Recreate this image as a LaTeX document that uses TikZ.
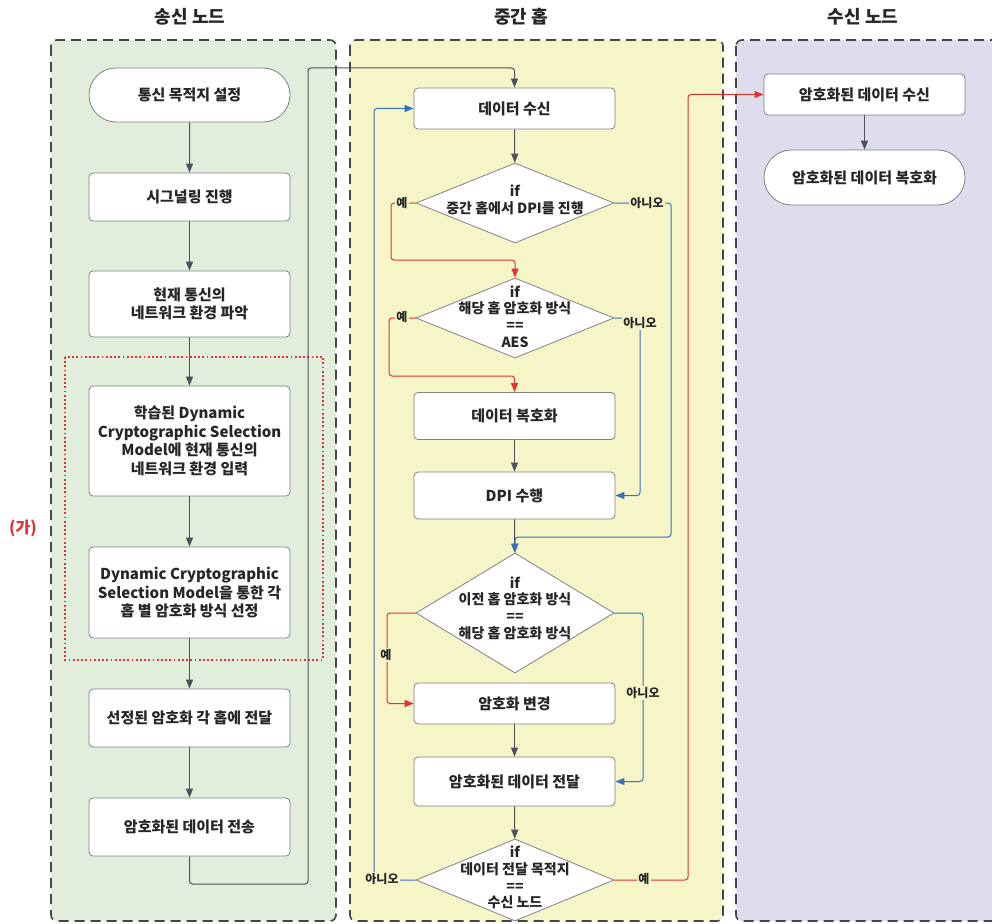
\documentclass[tikz,border=0pt]{standalone}
\usepackage{fontspec}
\setmainfont{Noto Sans CJK KR}
\usetikzlibrary{arrows.meta,shapes.geometric,shapes.misc}
\definecolor{laneG}{RGB}{224,238,219}
\definecolor{laneY}{RGB}{245,245,200}
\definecolor{laneP}{RGB}{221,221,238}
\definecolor{laneB}{RGB}{70,70,70}
\definecolor{boxC}{RGB}{125,130,135}
\definecolor{connC}{RGB}{75,82,92}
\definecolor{redC}{RGB}{226,50,50}
\definecolor{blueC}{RGB}{58,112,192}
\begin{document}
\begin{tikzpicture}[x=1pt,y=-1pt,
  lane/.style={draw=laneB, line width=1.6pt, dash pattern=on 10pt off 6pt, rounded corners=6pt},
  lanetitle/.style={font=\fontsize{18}{20}\selectfont\bfseries, text=black!85},
  box/.style={draw=boxC, fill=white, rounded corners=4pt, line width=0.8pt, minimum width=201pt, align=center, inner sep=0pt, font=\fontsize{15}{18.5}\selectfont\bfseries, text=black!85},
  term/.style={box, rounded rectangle, sharp corners},
  dia/.style={diamond, draw=boxC, fill=white, line width=0.8pt, minimum width=198pt, inner sep=0pt},
  dtxt/.style={align=center, font=\fontsize{14}{16.7}\selectfont\bfseries, text=black!85},
  conn/.style={draw=connC, line width=1pt, rounded corners=3pt, -{Triangle[length=9pt,width=7pt]}},
  rconn/.style={conn, draw=redC},
  bconn/.style={conn, draw=blueC},
  lbl/.style={font=\fontsize{12}{14}\selectfont\bfseries, text=black!85, fill=laneY, inner sep=1pt}
]
\useasboundingbox (0,0) rectangle (992,923);
\clip (0,0) rectangle (992,923);
\fill[white] (0,0) rectangle (992,923);

% lanes
\draw[lane, fill=laneG] (51,40) rectangle (336,921);
\draw[lane, fill=laneY] (350,40) rectangle (723,921);
\draw[lane, fill=laneP] (736,40) rectangle (1010,921);

\node[lanetitle] (t1) at (190,17) {송신 노드};
\node[lanetitle] (t2) at (521,17) {중간 홉};
\node[lanetitle] (t3) at (863,17) {수신 노드};

% highlight
\draw[draw=redC, line width=1.8pt, dash pattern=on 1.8pt off 2.4pt] (65,357) rectangle (323,660);
\node[font=\fontsize{16}{18}\selectfont\bfseries, text=redC] (ga) at (23,528) {(가)};

% lane 1
\node[term, minimum height=54pt] (start) at (189.5,95) {통신 목적지 설정};
\node[box, minimum height=48pt] (sig) at (189.5,197) {시그널링 진행};
\node[box, minimum height=66pt] (cur) at (189.5,304) {현재 통신의\\네트워크 환경 파악};
\node[box, minimum height=110pt] (learn) at (189.5,441) {학습된 Dynamic\\Cryptographic Selection\\Model에 현재 통신의\\네트워크 환경 입력};
\node[box, minimum height=91pt] (dyn) at (189.5,592.5) {Dynamic Cryptographic\\Selection Model을 통한 각\\홉 별 암호화 방식 선정};
\node[box, minimum height=58pt] (sel) at (189.5,718) {선정된 암호화 각 홉에 전달};
\node[box, minimum height=58pt] (send) at (189.5,827) {암호화된 데이터 전송};

% lane 2
\node[box, minimum height=41pt] (recv) at (514.5,108.5) {데이터 수신};
\node[dia, minimum height=80pt, label={[dtxt, yshift=3pt]center:{if\\중간 홉에서 DPI를 진행}}] (d1) at (515,203) {};
\node[dia, minimum height=80pt, label={[dtxt, yshift=1.5pt]center:{if\\해당 홉 암호화 방식\\==\\AES}}] (d2) at (515,318) {};
\node[box, minimum height=47pt] (dec) at (514.5,416) {데이터 복호화};
\node[box, minimum height=47pt] (dpi) at (514.5,495.5) {DPI 수행};
\node[dia, minimum height=120pt, label={[dtxt, yshift=5pt]center:{if\\이전 홉 암호화 방식\\==\\해당 홉 암호화 방식}}] (d3) at (515,613) {};
\node[box, minimum height=41pt] (chg) at (514.5,703.5) {암호화 변경};
\node[box, minimum height=49pt] (fwd) at (514.5,781.5) {암호화된 데이터 전달};
\node[dia, minimum height=82pt, label={[dtxt, yshift=2.5pt]center:{if\\데이터 전달 목적지\\==\\수신 노드}}] (d4) at (515,880) {};

% lane 3
\node[box, minimum height=41pt] (rrecv) at (864.5,94.5) {암호화된 데이터 수신};
\node[term, minimum height=55pt] (rdec) at (864.5,177.5) {암호화된 데이터 복호화};

% coordinates for routing
\coordinate (j1) at (308,884);
\coordinate (j2) at (308,68);
\coordinate (ca) at (391,260);
\coordinate (cb) at (671,537);
\coordinate (cc) at (389,376);
\coordinate (cd) at (640,495.5);
\coordinate (ce) at (387,703.5);
\coordinate (cf) at (643,781.5);
\coordinate (cg) at (374,108.5);
\coordinate (ch) at (688,94.5);

% lane 1 connectors
\draw[conn] (start) -- (sig);
\draw[conn] (sig) -- (cur);
\draw[conn] (cur) -- (learn);
\draw[conn] (learn) -- (dyn);
\draw[conn] (dyn) -- (sel);
\draw[conn] (sel) -- (send);
\draw[conn] (send.south) |- (j1) -- (j2) -| (recv.north);

% lane 2 connectors
\draw[conn] (recv) -- (d1);
\draw[conn] (dec) -- (dpi);
\draw[conn] (dpi) -- (d3);
\draw[conn] (chg) -- (fwd);
\draw[conn] (fwd) -- (d4);
\draw[rconn] (d1.west) -| (ca) -| (d2.north);
\draw[bconn] (d1.east) -| (cb) -| (d3.north);
\draw[rconn] (d2.west) -| (cc) -| (dec.north);
\draw[bconn] (d2.east) -| (cd) -- (dpi.east);
\draw[rconn] (d3.west) -| (ce) -- (chg.west);
\draw[bconn] (d3.east) -| (cf) -- (fwd.east);
\draw[bconn] (d4.west) -| (cg) -- (recv.west);
\draw[rconn] (d4.east) -| (ch) -- (rrecv.west);

% lane 3 connector
\draw[conn] (rrecv) -- (rdec);

% labels
\node[lbl] (l1) at (402,203) {예};
\node[lbl] (l2) at (647,203) {아니오};
\node[lbl] (l3) at (402,317) {예};
\node[lbl] (l4) at (640,323) {아니오};
\node[lbl] (l5) at (386,655) {예};
\node[lbl] (l6) at (643,693) {아니오};
\node[lbl] (l7) at (382,879) {아니오};
\node[lbl] (l8) at (644,879) {예};
\end{tikzpicture}
\end{document}
